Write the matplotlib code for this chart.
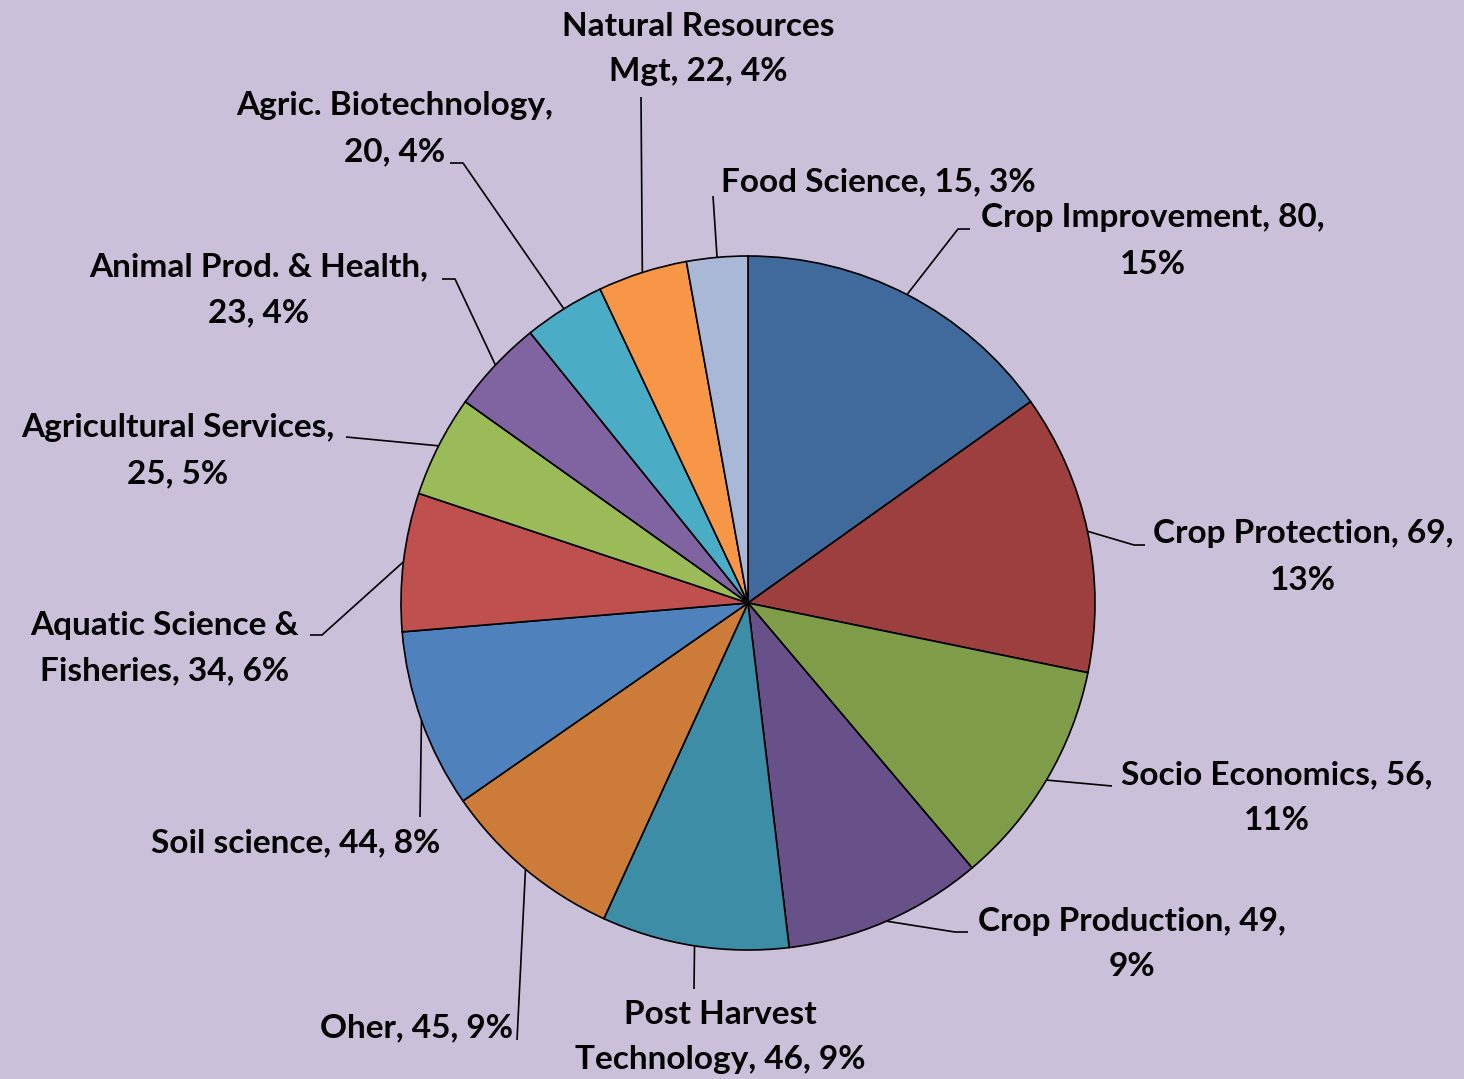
import numpy as np
import matplotlib
matplotlib.use('Agg')
import matplotlib.pyplot as plt

# research areas, clockwise from 12 o'clock
categories = [
    'Crop Improvement', 'Crop Protection', 'Socio Economics', 'Crop Production',
    'Post Harvest Technology', 'Oher', 'Soil science', 'Aquatic Science & Fisheries',
    'Agricultural Services', 'Animal Prod. & Health', 'Agric. Biotechnology',
    'Natural Resources Mgt', 'Food Science',
]
values = [80, 69, 56, 49, 46, 45, 44, 34, 25, 23, 20, 22, 15]
colors = [
    '#406A9B', '#9D3F3E', '#7F9D49', '#685088', '#3C8DA5', '#CC7B38', '#4F81BD',
    '#C0504D', '#9BBB59', '#8064A2', '#4BACC6', '#F79646', '#A9B8D6',
]

W, H = 1464, 1079
CENTER = (748, 603)
RADIUS = 347
BG = '#CBC0DA'
FONT = dict(family='Lato', fontweight='bold', fontsize=24, color='black')
LINE_GAP = 46

# (label centre x, first line y, words on first line (0 = one line), leader bend points) in pixels
label_layout = [
    (1153, 218, 3, [(958, 229), (970, 229)]),
    (1303, 534, 3, [(1134, 545), (1145, 545)]),
    (1277, 775, 3, [(1112, 786)]),
    (1132, 921, 3, [(955, 932), (968, 932)]),
    (720, 1014, 2, [(694, 989)]),
    (417, 1028, 0, [(517, 1040)]),
    (296, 843, 0, [(420, 817)]),
    (165, 625, 3, [(322, 635), (310, 635)]),
    (178, 428, 2, [(346, 437)]),
    (259, 267, 4, [(455, 279), (442, 279)]),
    (395, 106, 2, [(463, 163), (450, 163)]),
    (698, 26, 2, [(641, 97)]),
    (878, 182, 0, [(713, 196)]),
]


def flip(x, y):
    return x, H - y


def label_lines(name, value, pct, split):
    words = f'{name}, {value}, {pct}%'.split(' ')
    if split == 0:
        return [' '.join(words)]
    return [' '.join(words[:split]), ' '.join(words[split:])]


fig = plt.figure(figsize=(W / 100, H / 100), dpi=100)
fig.patch.set_facecolor(BG)
ax = fig.add_axes([0, 0, 1, 1])

cx, cy = flip(*CENTER)
wedges, _ = ax.pie(values, colors=colors, startangle=90, counterclock=False,
                   center=(cx, cy), radius=RADIUS,
                   wedgeprops=dict(edgecolor='black', linewidth=1.2))

total = sum(values)
for wedge, name, value, (lx, ly, split, bends) in zip(wedges, categories, values, label_layout):
    mid = np.deg2rad((wedge.theta1 + wedge.theta2) / 2)
    xs = [cx + RADIUS * np.cos(mid)] + [flip(*p)[0] for p in bends]
    ys = [cy + RADIUS * np.sin(mid)] + [flip(*p)[1] for p in bends]
    ax.plot(xs, ys, color='black', linewidth=1.2, solid_capstyle='butt')

    pct = round(100 * value / total)
    for i, line in enumerate(label_lines(name, value, pct, split)):
        ax.text(*flip(lx, ly + i * LINE_GAP), line, ha='center', va='center', **FONT)

ax.set_xlim(0, W)
ax.set_ylim(0, H)
ax.set_aspect('auto')
ax.axis('off')

fig.savefig('out.png', dpi=100, facecolor=BG)
